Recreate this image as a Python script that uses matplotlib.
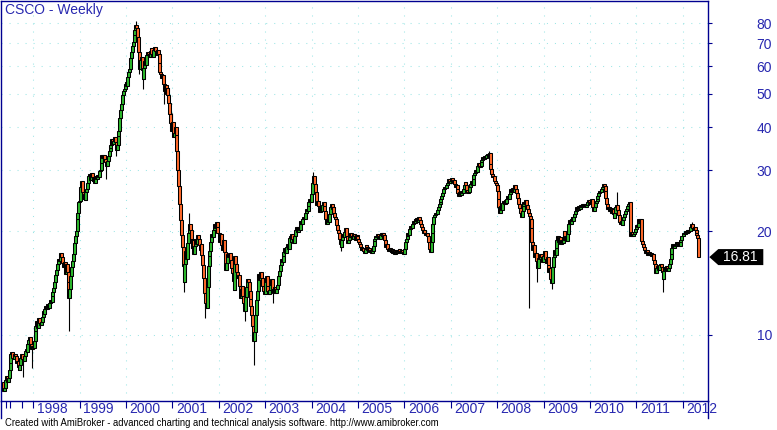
import matplotlib
matplotlib.use("Agg")
import matplotlib.pyplot as plt
from matplotlib.patches import Polygon
from matplotlib.lines import Line2D
from matplotlib.ticker import NullLocator
from matplotlib.transforms import IdentityTransform

plt.rcParams['font.family'] = ['Liberation Sans', 'DejaVu Sans']

# weekly closes, one list per calendar year (1997 starts mid-May, 2012 ends mid-May)
c1997 = [6.9, 7.0, 7.4, 7.6, 7.3, 7.5, 7.9, 8.3, 8.8, 8.9, 8.6, 8.5, 8.8, 8.7, 8.3, 8.4, 8.1,
         7.9, 8.2, 8.6, 8.8, 8.5, 8.4, 8.7, 9.0, 9.1, 8.9, 9.4, 9.7, 9.9, 9.4, 9.1, 9.3]
c1998 = [9.2, 9.6, 10.3, 10.6, 11.0, 10.5, 11.2, 10.8, 10.7, 10.9, 11.3, 11.7, 11.5, 11.9, 12.1,
         11.9, 12.3, 12.0, 12.4, 12.6, 12.5, 13.0, 13.3, 13.7, 14.2, 14.9, 15.4, 16.0, 16.6, 16.4,
         17.1, 17.3, 16.8, 16.2, 15.7, 16.3, 15.0, 16.0, 15.2, 14.2, 12.8, 13.6, 14.8, 15.7, 16.4,
         17.2, 18.5, 19.4, 20.0, 21.6, 22.5, 24.2]
c1999 = [24.5, 26.8, 27.9, 26.0, 24.8, 25.6, 24.6, 25.9, 26.4, 27.6, 28.8, 29.3, 28.1, 29.4, 28.6,
         27.9, 28.4, 27.5, 28.9, 28.2, 29.0, 28.6, 29.8, 30.1, 31.5, 33.2, 32.6, 33.3, 32.4, 31.6,
         30.9, 31.8, 33.0, 34.2, 34.8, 35.6, 36.9, 35.8, 36.5, 37.4, 36.2, 34.4, 35.6, 37.8, 38.9,
         42.5, 44.8, 46.5, 49.5, 50.8, 51.5, 53.4]
c2000 = [54.0, 52.5, 55.8, 57.6, 59.0, 63.5, 66.0, 68.5, 70.4, 74.0, 76.5, 79.0, 77.5, 73.0, 66.0,
         59.0, 62.5, 64.0, 58.5, 55.2, 59.3, 62.0, 60.5, 64.5, 66.0, 65.0, 63.6, 66.5, 67.8, 65.2,
         64.0, 66.8, 68.2, 66.6, 64.8, 66.9, 65.3, 61.5, 57.8, 57.0, 55.5, 56.6, 53.2, 51.0, 52.8,
         49.8, 52.0, 49.4, 47.0, 43.5, 41.2, 39.0]
c2001 = [41.5, 37.5, 38.5, 40.0, 38.0, 34.0, 30.0, 27.0, 24.0, 21.5, 19.5, 18.0, 15.8, 14.2, 16.0,
         17.5, 16.6, 18.5, 19.8, 21.0, 20.2, 19.0, 17.9, 18.8, 17.2, 18.1, 19.0, 18.3, 19.5, 19.0,
         18.2, 17.6, 18.3, 17.0, 15.9, 14.6, 13.2, 12.4, 12.0, 13.8, 15.8, 16.9, 17.5, 18.6, 19.6,
         19.2, 20.2, 21.0, 20.4, 21.3, 20.6, 19.8]
c2002 = [19.8, 18.6, 19.6, 18.2, 17.6, 18.8, 17.4, 16.0, 15.4, 16.2, 17.2, 16.8, 17.3, 16.5, 15.6,
         15.1, 14.3, 13.5, 16.9, 16.0, 15.2, 14.6, 14.9, 13.9, 12.8, 13.6, 13.9, 13.0, 12.4, 11.7,
         12.9, 13.8, 14.5, 14.2, 13.4, 12.7, 12.1, 11.4, 10.6, 9.6, 10.2, 11.4, 12.6, 13.4, 14.6,
         15.0, 14.4, 15.2, 14.6, 13.9, 13.4, 13.1]
c2003 = [14.2, 14.8, 13.9, 13.4, 13.1, 13.5, 14.0, 14.5, 13.6, 13.2, 13.8, 13.4, 13.2, 13.6, 14.0,
         14.8, 15.3, 15.9, 16.6, 16.3, 16.9, 17.4, 17.9, 17.3, 18.0, 18.4, 17.8, 19.1, 19.4, 18.6,
         19.6, 19.0, 18.5, 19.3, 20.1, 20.5, 19.9, 20.6, 20.2, 21.0, 21.4, 20.9, 21.6, 22.0, 21.7,
         22.6, 23.2, 22.8, 23.6, 24.2, 24.8, 24.3]
c2004 = [25.6, 27.5, 28.9, 27.4, 26.0, 24.3, 23.8, 24.5, 23.6, 22.7, 23.4, 22.9, 23.8, 24.3, 23.6,
         22.8, 21.6, 21.0, 21.7, 21.3, 22.4, 23.5, 23.9, 23.2, 23.5, 22.6, 22.0, 21.6, 20.8, 20.2,
         19.7, 19.0, 18.4, 18.0, 18.9, 19.6, 19.2, 19.9, 20.4, 19.3, 18.5, 18.9, 19.6, 19.2, 19.8,
         19.4, 19.0, 19.6, 19.3, 18.9, 19.5, 19.3]
c2005 = [19.0, 18.6, 18.3, 18.0, 17.6, 17.9, 17.5, 17.3, 17.7, 18.2, 18.0, 17.6, 17.9, 17.4, 17.6,
         17.3, 17.5, 18.1, 18.7, 19.0, 19.4, 19.2, 19.6, 19.3, 19.0, 19.5, 19.7, 19.3, 19.8, 19.5,
         18.9, 18.0, 18.3, 17.8, 17.5, 17.9, 17.6, 17.4, 17.7, 17.3, 17.6, 17.2, 17.5, 17.3, 17.6,
         17.4, 17.7, 17.5, 17.3, 17.6, 17.4, 17.2]
c2006 = [17.8, 18.6, 19.0, 19.4, 19.8, 19.5, 20.3, 20.7, 20.4, 21.0, 21.4, 21.1, 21.7, 21.4, 21.8,
         21.3, 21.9, 21.5, 20.9, 20.6, 20.1, 19.8, 20.1, 19.7, 19.5, 19.8, 19.3, 18.6, 17.8, 17.4,
         18.6, 19.8, 21.0, 21.9, 22.3, 22.6, 22.4, 23.0, 23.4, 23.9, 24.3, 24.7, 25.2, 25.8, 26.5,
         26.9, 26.6, 27.1, 27.5, 27.9, 28.3, 27.6]
c2007 = [28.0, 28.4, 27.8, 28.1, 27.4, 26.8, 27.2, 26.4, 25.8, 25.3, 25.9, 25.5, 26.1, 25.7, 26.4,
         27.2, 27.7, 27.1, 26.3, 25.8, 26.0, 26.9, 27.4, 27.9, 27.2, 28.3, 29.1, 29.5, 30.1, 29.6,
         30.9, 31.4, 30.6, 30.9, 31.6, 32.1, 32.7, 32.3, 33.0, 32.5, 33.2, 33.5, 32.8, 33.6, 31.2,
         30.2, 29.3, 28.6, 28.9, 28.0, 27.6, 27.1]
c2008 = [26.2, 24.8, 23.4, 22.5, 23.6, 23.0, 24.1, 24.5, 23.9, 24.6, 24.1, 24.8, 25.2, 24.7, 25.6,
         26.4, 26.0, 26.6, 25.9, 26.8, 27.1, 26.5, 25.8, 25.0, 24.0, 23.3, 22.6, 22.0, 22.8, 23.6,
         24.3, 24.0, 24.6, 23.8, 23.2, 22.5, 22.1, 21.6, 20.4, 18.6, 17.6, 18.2, 16.8, 17.3, 16.4,
         15.6, 16.7, 17.1, 16.6, 17.2, 16.8, 16.3]
c2009 = [16.9, 17.5, 16.6, 16.2, 16.8, 15.9, 15.2, 15.6, 14.5, 14.1, 15.7, 16.8, 17.6, 17.0, 17.9,
         18.8, 19.4, 18.6, 19.2, 18.4, 18.9, 18.5, 19.2, 20.0, 18.9, 19.3, 18.7, 19.6, 20.9, 21.5,
         21.0, 21.6, 21.9, 21.4, 22.0, 22.4, 22.8, 23.4, 23.0, 23.6, 23.2, 23.8, 23.4, 23.7, 24.0,
         23.6, 23.9, 23.5, 23.8, 24.2, 24.6, 24.0]
c2010 = [24.3, 23.9, 24.8, 23.4, 22.9, 23.5, 24.1, 24.4, 24.8, 25.3, 25.8, 26.1, 25.9, 26.4, 26.9,
         27.4, 27.0, 26.2, 25.0, 24.0, 23.2, 23.5, 22.9, 23.3, 22.6, 23.1, 22.4, 21.8, 22.5, 23.4,
         23.8, 23.0, 22.2, 21.2, 20.9, 21.4, 20.8, 21.5, 21.9, 22.4, 22.8, 23.1, 23.6, 23.9, 24.2,
         19.8, 19.4, 19.9, 19.3, 19.6, 19.9, 20.3]
c2011 = [20.8, 20.5, 21.1, 21.6, 21.3, 21.7, 18.7, 18.4, 18.0, 17.6, 17.3, 17.6, 17.2, 17.0, 17.4,
         17.1, 17.3, 16.9, 17.2, 16.5, 16.0, 15.5, 15.1, 15.6, 15.8, 15.4, 15.9, 16.1, 15.7, 15.2,
         14.5, 15.3, 15.7, 15.4, 15.8, 15.3, 15.6, 16.0, 16.6, 17.2, 17.9, 18.3, 17.9, 18.4, 18.1,
         18.6, 18.2, 18.5, 18.1, 18.6, 18.9, 19.3]
c2012 = [19.4, 19.8, 19.6, 20.0, 19.8, 20.1, 19.9, 20.2, 20.0, 20.6, 20.9, 20.4, 20.2, 20.5, 20.1,
         19.8, 19.5, 19.1, 16.81]

first_open = 7.3

# long shadows that stick out of the bodies: (year, week in that list) -> price
tail_low = {(1997, 22): 7.55, (1997, 31): 8.0, (1998, 39): 13.7, (1998, 40): 10.3,
            (1999, 30): 28.2, (1999, 41): 33.0, (2000, 15): 56.8, (2000, 19): 51.5,
            (2000, 42): 46.5, (2001, 13): 13.3, (2001, 37): 11.2, (2002, 29): 11.0,
            (2002, 39): 8.2, (2003, 9): 12.4, (2004, 33): 17.5, (2008, 36): 12.0,
            (2008, 45): 14.2, (2009, 9): 13.6, (2011, 30): 13.3}
tail_high = {(2000, 11): 81.0, (2001, 0): 44.0, (2001, 19): 22.5, (2004, 2): 29.6,
             (2007, 43): 34.2, (2010, 30): 26.0, (2012, 10): 21.2}

years = list(range(1998, 2013))
price_ticks = [10, 20, 30, 40, 50, 60, 70, 80]

GREEN = '#2cb82c'
ORANGE = '#ff6a2a'
NAVY = '#000090'
LABEL = '#2828b0'
GRID = '#9ee6e6'

weekly = {1997: c1997, 1998: c1998, 1999: c1999, 2000: c2000, 2001: c2001, 2002: c2002,
          2003: c2003, 2004: c2004, 2005: c2005, 2006: c2006, 2007: c2007, 2008: c2008,
          2009: c2009, 2010: c2010, 2011: c2011, 2012: c2012}

# one weekly series, position in decimal years
t, o, c, hi, lo = [], [], [], [], []
prev = first_open
for yr, vals in weekly.items():
    start = 52 - len(vals) if yr == 1997 else 0
    for k, v in enumerate(vals):
        t.append(yr + (start + k) / 52)
        o.append(prev)
        c.append(v)
        hi.append(tail_high.get((yr, k), max(prev, v)))
        lo.append(tail_low.get((yr, k), min(prev, v)))
        prev = v

W, H = 777, 430
fig = plt.figure(figsize=(W / 100, H / 100), dpi=100)
ax = fig.add_axes([1 / W, 29 / H, 707.3 / W, 400.5 / H])

px_year = 46.39
ax.set_xlim(1998 - 32.3 / px_year, 2012 + 25.6 / px_year)
ax.set_yscale('log')
ax.set_ylim(6.44, 93.0)

body_w = 3.0 / px_year
bottoms = [min(a, b) for a, b in zip(o, c)]
heights = [abs(b - a) for a, b in zip(o, c)]
colors = [GREEN if b >= a else ORANGE for a, b in zip(o, c)]
ax.vlines(t, lo, hi, color='black', linewidth=0.8, zorder=2)
ax.bar(t, heights, bottom=bottoms, width=body_w, color=colors,
       edgecolor='black', linewidth=0.75, zorder=3)

# grid
ax.set_axisbelow(True)
ax.grid(True, which='major', color=GRID, linestyle=(0, (1, 6.7)), linewidth=0.75)

# spines
for s in ax.spines.values():
    s.set_color(NAVY)
    s.set_linewidth(1.0)

# x axis: year ticks, labels to the right of the tick
ax.set_xticks(years)
ax.set_xticklabels([])
ax.set_xticks([1997 + 5 / 12, 1997 + 6 / 12, 1997 + 9 / 12], minor=True)
ax.tick_params(axis='x', which='both', direction='out', length=5, width=0.8, color=NAVY)
for yr in years:
    ax.text(yr + 3.5 / px_year, -0.021, str(yr), transform=ax.get_xaxis_transform(),
            ha='left', va='center', fontsize=10, color=LABEL, clip_on=False)

# y axis on the right
ax.yaxis.tick_right()
ax.set_yticks(price_ticks)
ax.set_yticklabels([str(p) for p in price_ticks])
ax.yaxis.set_minor_locator(NullLocator())
ax.tick_params(axis='y', which='major', direction='out', length=3, width=0.8, color=NAVY,
               labelcolor=LABEL, labelsize=10, pad=43)
for lbl in ax.get_yticklabels():
    lbl.set_ha('right')

# frame sides run down past the date row
for xf in (1 / W, 708.3 / W):
    fig.add_artist(Line2D([xf, xf], [29 / H, 12 / H], transform=fig.transFigure,
                          color=NAVY, linewidth=1.0))

ax.text(4 / 707, 1 - 9 / 400, 'CSCO - Weekly', transform=ax.transAxes, ha='left',
        va='center', fontsize=10, color=LABEL)

# last price marker
xr = ax.transAxes.transform((1, 0))[0]
yl = ax.transData.transform((t[-1], c[-1]))[1]
marker = Polygon([(xr + 1, yl), (xr + 10, yl + 8), (xr + 55, yl + 8), (xr + 55, yl - 8),
                  (xr + 10, yl - 8)], closed=True, facecolor='black', edgecolor='none',
                 transform=IdentityTransform(), clip_on=False)
fig.add_artist(marker)
fig.text(xr + 32, yl, f'{c[-1]:.2f}', transform=IdentityTransform(), ha='center',
         va='center', fontsize=10, color='white')

fig.text(5 / W, 1 - 423 / H,
         'Created with AmiBroker - advanced charting and technical analysis software. '
         'http://www.amibroker.com', ha='left', va='center', fontsize=6.85, color='black')

fig.savefig('out.png', dpi=100)
